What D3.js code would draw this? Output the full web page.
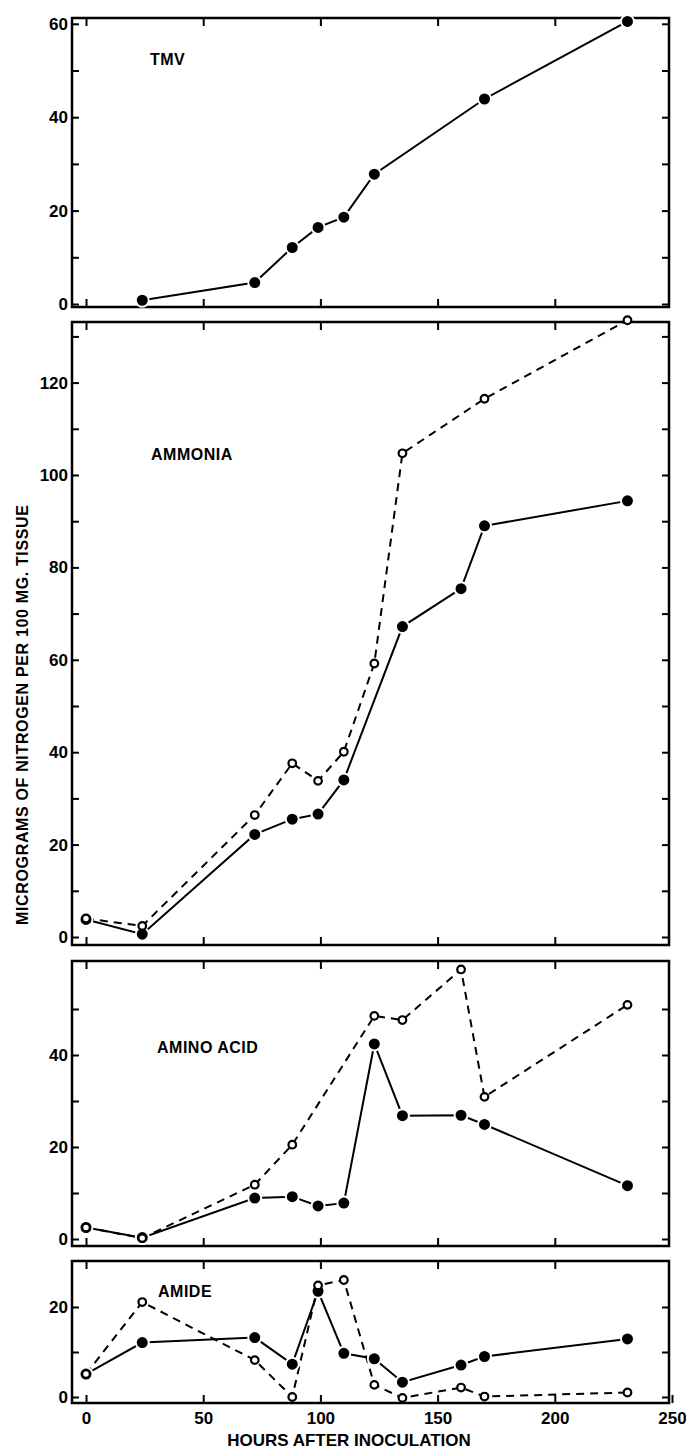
<!DOCTYPE html>
<html><head><meta charset="utf-8">
<script src="https://cdn.jsdelivr.net/npm/d3@7"></script>
<style>
body{margin:0;background:#fff;}
svg{display:block;}
text{font-family:"Liberation Sans",Arial,sans-serif;font-weight:bold;fill:#000;}
</style></head><body>
<svg id="chart" width="686" height="1450"></svg>
<script>
// ---------- DATA ----------
const xTickLabels = [0, 50, 100, 150, 200, 250];

const tmvHours  = [24, 72, 88, 99, 110, 123, 170, 231];
const tmvValues = [0.8, 4.6, 12.1, 16.4, 18.6, 27.8, 43.9, 60.5];

const ammoniaSolidHours  = [0, 24, 72, 88, 99, 110, 135, 160, 170, 231];
const ammoniaSolidValues = [3.8, 0.6, 22.2, 25.5, 26.6, 34.0, 67.2, 75.4, 89.0, 94.4];
const ammoniaOpenHours   = [0, 24, 72, 88, 99, 110, 123, 135, 170, 231];
const ammoniaOpenValues  = [4.0, 2.4, 26.4, 37.6, 33.8, 40.1, 59.2, 104.7, 116.5, 133.5];

const aminoSolidHours  = [0, 24, 72, 88, 99, 110, 123, 135, 160, 170, 231];
const aminoSolidValues = [2.5, 0.3, 8.9, 9.2, 7.2, 7.8, 42.4, 26.8, 26.9, 24.9, 11.6];
const aminoOpenHours   = [0, 24, 72, 88, 123, 135, 160, 170, 231];
const aminoOpenValues  = [2.5, 0.2, 11.8, 20.5, 48.5, 47.6, 58.6, 30.9, 50.9];

const amideSolidHours  = [0, 24, 72, 88, 99, 110, 123, 135, 160, 170, 231];
const amideSolidValues = [5.1, 12.1, 13.2, 7.3, 23.5, 9.7, 8.5, 3.3, 7.1, 9.0, 12.9];
const amideOpenHours   = [0, 24, 72, 88, 99, 110, 123, 135, 160, 170, 231];
const amideOpenValues  = [5.1, 21.1, 8.2, 0.0, 24.8, 26.0, 2.7, -0.2, 2.1, 0.1, 1.0];

const panelNames = ["TMV", "AMMONIA", "AMINO ACID", "AMIDE"];
const xTitle = "HOURS AFTER INOCULATION";
const yTitle = "MICROGRAMS OF NITROGEN PER 100 MG. TISSUE";

// ---------- LAYOUT ----------
const svg = d3.select("#chart");
const frameLeft = 72, frameRight = 669;
const x = d3.scaleLinear().domain([0, 250]).range([86, 672]);

const zip = (h, v) => h.map((d, i) => ({h: d, v: v[i]}));

const panels = [
  {top: 18,   bottom: 307,  zero: 304,  ppu: 4.67, label: panelNames[0], lx: 150, ly: 65,
   series: [{d: zip(tmvHours, tmvValues), open: false}]},
  {top: 322,  bottom: 945,  zero: 937,  ppu: 4.62, label: panelNames[1], lx: 151, ly: 460,
   series: [{d: zip(ammoniaSolidHours, ammoniaSolidValues), open: false},
            {d: zip(ammoniaOpenHours, ammoniaOpenValues), open: true}]},
  {top: 961,  bottom: 1246, zero: 1239, ppu: 4.6,  label: panelNames[2], lx: 157, ly: 1053,
   series: [{d: zip(aminoSolidHours, aminoSolidValues), open: false},
            {d: zip(aminoOpenHours, aminoOpenValues), open: true}]},
  {top: 1261, bottom: 1403, zero: 1397, ppu: 4.5,  label: panelNames[3], lx: 158, ly: 1297,
   series: [{d: zip(amideSolidHours, amideSolidValues), open: false},
            {d: zip(amideOpenHours, amideOpenValues), open: true}]}
];

panels.forEach((p, pi) => {
  const yMin = -(p.bottom - p.zero) / p.ppu;
  const yMax = (p.zero - p.top) / p.ppu;
  const y = d3.scaleLinear().domain([yMin, yMax]).range([p.bottom, p.top]);
  const g = svg.append("g");
  const yTicks = d3.range(0, yMax - 1, 10);

  const la = g.append("g").attr("transform", `translate(${frameLeft},0)`)
    .call(d3.axisLeft(y).tickValues(yTicks).tickSize(-7).tickPadding(4)
      .tickFormat(d => d % 20 === 0 ? d : ""));
  const ra = g.append("g").attr("transform", `translate(${frameRight},0)`)
    .call(d3.axisRight(y).tickValues(yTicks).tickSize(-7).tickFormat(""));
  const ta = g.append("g").attr("transform", `translate(0,${p.top})`)
    .call(d3.axisTop(x).tickValues([0, 50, 100, 150, 200]).tickSize(-8).tickFormat(""));
  const isLast = pi === panels.length - 1;
  const ba = g.append("g").attr("transform", `translate(0,${p.bottom})`)
    .call(d3.axisBottom(x).tickValues(isLast ? xTickLabels : [0, 50, 100, 150, 200])
      .tickSize(-8).tickPadding(9).tickFormat(isLast ? d => d : ""));

  [la, ra, ta, ba].forEach(a => {
    a.select(".domain").remove();
    a.selectAll("line").attr("stroke", "#000").attr("stroke-width", 2);
    a.selectAll("text").attr("font-size", 17).attr("fill", "#000")
      .style("font-family", '"Liberation Sans",Arial,sans-serif').style("font-weight", "bold");
  });

  g.append("rect")
    .attr("x", frameLeft).attr("y", p.top)
    .attr("width", frameRight - frameLeft).attr("height", p.bottom - p.top)
    .attr("fill", "none").attr("stroke", "#000").attr("stroke-width", 2.5);

  g.append("text").attr("x", p.lx).attr("y", p.ly)
    .attr("font-size", 16).attr("letter-spacing", 0.5).text(p.label);

  const line = d3.line().x(d => x(d.h)).y(d => y(d.v));

  p.series.forEach(s => {
    g.append("path").datum(s.d)
      .attr("d", line).attr("fill", "none").attr("stroke", "#000")
      .attr("stroke-width", 2)
      .attr("stroke-dasharray", s.open ? "8,6" : null);
  });
  p.series.filter(s => !s.open).forEach(s => {
    g.selectAll(null).data(s.d).enter().append("circle")
      .attr("cx", d => x(d.h)).attr("cy", d => y(d.v)).attr("r", 6.5)
      .attr("fill", "#000").attr("stroke", "#fff").attr("stroke-width", 2);
  });
  p.series.filter(s => s.open).forEach(s => {
    g.selectAll(null).data(s.d).enter().append("circle")
      .attr("cx", d => x(d.h)).attr("cy", d => y(d.v)).attr("r", 3.8)
      .attr("fill", "#fff").attr("stroke", "#000").attr("stroke-width", 2.2);
  });
});

svg.append("text").attr("x", 349).attr("y", 1446).attr("text-anchor", "middle")
  .attr("font-size", 17).text(xTitle);

svg.append("text")
  .attr("transform", "translate(28,715) rotate(-90)")
  .attr("text-anchor", "middle").attr("font-size", 16)
  .attr("textLength", 420).attr("lengthAdjust", "spacing")
  .text(yTitle);
</script>
</body></html>
